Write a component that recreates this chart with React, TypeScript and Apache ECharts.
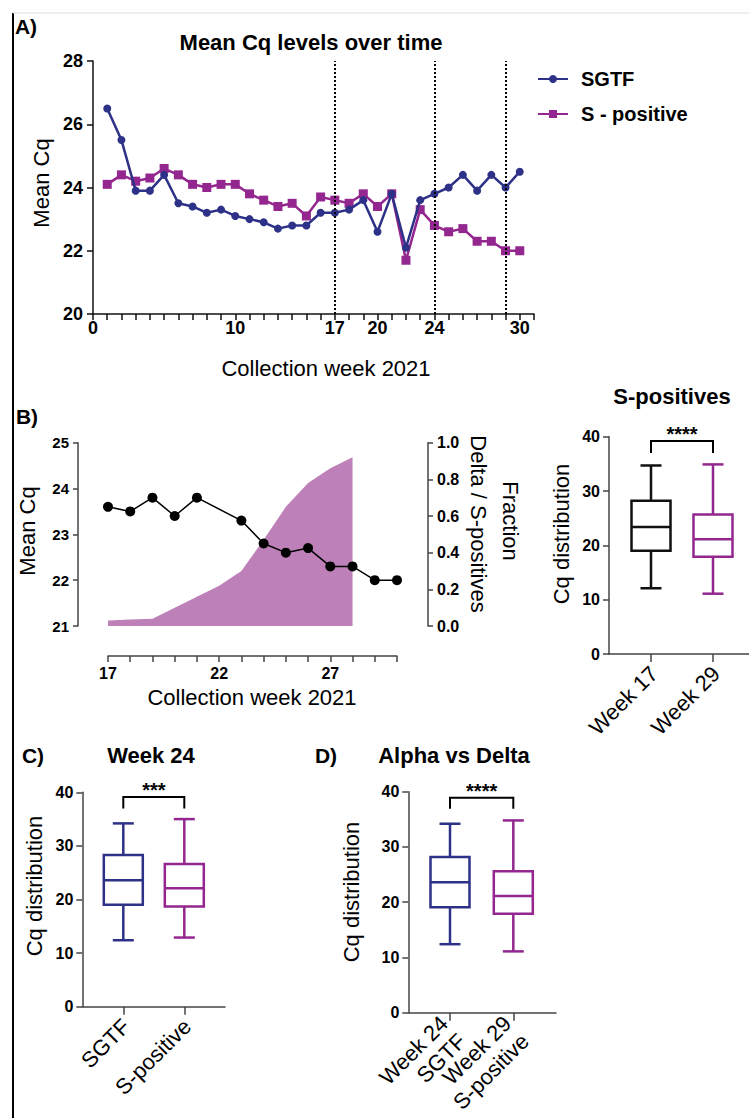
import React, { useEffect, useRef } from "react";
import * as echarts from "echarts";

const FONT = '"Liberation Sans", Arial, Helvetica, sans-serif';

// ---------- Panel A data ----------
const weeksA = [1, 2, 3, 4, 5, 6, 7, 8, 9, 10, 11, 12, 13, 14, 15, 16, 17, 18, 19, 20, 21, 22, 23, 24, 25, 26, 27, 28, 29, 30];
const sgtfA = [26.5, 25.5, 23.9, 23.9, 24.4, 23.5, 23.4, 23.2, 23.3, 23.1, 23.0, 22.9, 22.7, 22.8, 22.8, 23.2, 23.2, 23.3, 23.6, 22.6, 23.8, 22.1, 23.6, 23.8, 24.0, 24.4, 23.9, 24.4, 24.0, 24.5];
const sposA = [24.1, 24.4, 24.2, 24.3, 24.6, 24.4, 24.1, 24.0, 24.1, 24.1, 23.8, 23.6, 23.4, 23.5, 23.1, 23.7, 23.6, 23.5, 23.8, 23.4, 23.8, 21.7, 23.3, 22.8, 22.6, 22.7, 22.3, 22.3, 22.0, 22.0];
const weekLabelsA = [0, 10, 17, 20, 24, 30];
const markerWeeksA = [17, 24, 29];

// ---------- Panel B data ----------
const weeksB = [17, 18, 19, 20, 21, 23, 24, 25, 26, 27, 28, 29, 30];
const meanCqB = [23.6, 23.5, 23.8, 23.4, 23.8, 23.3, 22.8, 22.6, 22.7, 22.3, 22.3, 22.0, 22.0];
const fracWeeksB = [17, 18, 19, 20, 21, 22, 23, 24, 25, 26, 27, 28];
const deltaFracB = [0.03, 0.035, 0.04, 0.1, 0.16, 0.22, 0.3, 0.47, 0.65, 0.78, 0.86, 0.92];
const weekLabelsB = [17, 22, 27];

// ---------- Box panels data: [min, Q1, median, Q3, max] ----------
const sposCats = ["Week 17", "Week 29"];
const sposBoxes = [
  [12.1, 19.0, 23.4, 28.2, 34.7],
  [11.1, 17.9, 21.1, 25.7, 34.9],
];
const sposSig = "****";

const w24Cats = ["SGTF", "S-positive"];
const w24Boxes = [
  [12.4, 19.0, 23.6, 28.3, 34.2],
  [12.9, 18.7, 22.1, 26.6, 35.0],
];
const w24Sig = "***";

const avdCats = ["Week 24\nSGTF", "Week 29\nS-positive"];
const avdBoxes = [
  [12.4, 19.1, 23.6, 28.2, 34.2],
  [11.1, 17.9, 21.1, 25.6, 34.8],
];
const avdSig = "****";

const NAVY = "#2D3187";
const PURPLE = "#93278F";
const AREA = "#BE80B8";

function makeBoxRender(cats: string[]) {
  return (params: any, api: any) => {
    const x = api.value(0);
    const mn = api.value(1), q1 = api.value(2), md = api.value(3), q3 = api.value(4), mx = api.value(5);
    const c = api.visual("color");
    const pMax = api.coord([x, mx]);
    const pQ3 = api.coord([x, q3]);
    const pMd = api.coord([x, md]);
    const pQ1 = api.coord([x, q1]);
    const pMn = api.coord([x, mn]);
    const pBase = api.coord([x, 0]);
    const cx = pMax[0];
    const hw = 19.5;
    const cw = 10.5;
    const st = () => ({ stroke: c, lineWidth: 2.5, fill: "none" });
    return {
      type: "group",
      children: [
        { type: "line", shape: { x1: cx, y1: pMax[1], x2: cx, y2: pQ3[1] }, style: st() },
        { type: "line", shape: { x1: cx, y1: pQ1[1], x2: cx, y2: pMn[1] }, style: st() },
        { type: "line", shape: { x1: cx - cw, y1: pMax[1], x2: cx + cw, y2: pMax[1] }, style: st() },
        { type: "line", shape: { x1: cx - cw, y1: pMn[1], x2: cx + cw, y2: pMn[1] }, style: st() },
        { type: "rect", shape: { x: cx - hw, y: pQ3[1], width: 2 * hw, height: pQ1[1] - pQ3[1] }, style: st() },
        { type: "line", shape: { x1: cx - hw, y1: pMd[1], x2: cx + hw, y2: pMd[1] }, style: st() },
        {
          type: "text",
          x: cx + 3,
          y: pBase[1] + 16,
          rotation: Math.PI / 4,
          style: {
            text: cats[params.dataIndex],
            font: `22px ${FONT}`,
            textAlign: "right",
            textVerticalAlign: "middle",
            lineHeight: 25,
            fill: "#000",
          },
        },
      ],
    };
  };
}

function bracketRender(sig: string) {
  return (params: any, api: any) => {
    const x1 = api.value(0), x2 = api.value(1), top = api.value(2), low = api.value(3);
    const a = api.coord([x1, low]);
    const b = api.coord([x1, top]);
    const c = api.coord([x2, top]);
    const d = api.coord([x2, low]);
    return {
      type: "group",
      children: [
        { type: "polyline", shape: { points: [a, b, c, d] }, style: { stroke: "#000", lineWidth: 2, fill: "none" } },
        {
          type: "text",
          x: (b[0] + c[0]) / 2,
          y: b[1] - 7,
          style: { text: sig, font: `bold 20px ${FONT}`, textAlign: "center", textVerticalAlign: "middle", fill: "#000" },
        },
      ],
    };
  };
}

function boxPanel(gi: number, yi: number, cats: string[], boxes: number[][], colors: string[], sig: string, bTop: number, bLow: number, xmin: number, xmax: number) {
  const axisColor = "#444";
  const xAxis = {
    type: "value",
    gridIndex: gi,
    min: xmin,
    max: xmax,
    splitLine: { show: false },
    axisLine: { onZero: false, lineStyle: { color: axisColor, width: 1.5 } },
    axisTick: { customValues: [1, 2], length: 8, lineStyle: { color: axisColor, width: 1.5 } },
    axisLabel: { show: false },
  };
  const yAxis = {
    type: "value",
    gridIndex: gi,
    min: 0,
    max: 40,
    interval: 10,
    splitLine: { show: false },
    axisLine: { show: true, onZero: false, lineStyle: { color: axisColor, width: 1.5 } },
    axisTick: { show: true, length: 6, lineStyle: { color: axisColor, width: 1.5 } },
    axisLabel: { margin: 9, fontSize: 16, fontWeight: "bold", fontFamily: FONT, color: "#000" },
  };
  const series = [
    {
      type: "custom",
      xAxisIndex: gi,
      yAxisIndex: yi,
      renderItem: makeBoxRender(cats),
      clip: false,
      data: boxes.map((b, i) => ({ value: [i + 1, ...b], itemStyle: { color: colors[i] } })),
      z: 3,
    },
    {
      type: "custom",
      xAxisIndex: gi,
      yAxisIndex: yi,
      renderItem: bracketRender(sig),
      clip: false,
      data: [[1, 2, bTop, bLow]],
      z: 3,
    },
  ];
  return { xAxis, yAxis, series };
}

function txt(text: string, x: number, y: number, size: number, bold = false, rotation = 0) {
  return {
    type: "text",
    x,
    y,
    rotation,
    style: {
      text,
      font: `${bold ? "bold " : ""}${size}px ${FONT}`,
      textAlign: "center",
      textVerticalAlign: "middle",
      fill: "#000",
    },
  };
}

export default function App() {
  const ref = useRef<HTMLDivElement>(null);
  useEffect(() => {
    document.body.style.margin = "0";
    const chart = echarts.init(ref.current!, null, { renderer: "svg" });

    const tickLabel = (size: number) => ({ fontSize: size, fontWeight: "bold", fontFamily: FONT, color: "#000" });

    const spos = boxPanel(2, 3, sposCats, sposBoxes, ["#111", PURPLE], sposSig, 39.2, 37.0, 1 - 42 / 62, 1 - 42 / 62 + 140 / 62);
    const w24 = boxPanel(3, 4, w24Cats, w24Boxes, [NAVY, PURPLE], w24Sig, 39.1, 37.0, 1 - 41 / 61, 1 - 41 / 61 + 142.7 / 61);
    const avd = boxPanel(4, 5, avdCats, avdBoxes, [NAVY, PURPLE], avdSig, 38.9, 36.9, 1 - 41.7 / 63.3, 1 - 41.7 / 63.3 + 147.7 / 63.3);

    const option: any = {
      animation: false,
      backgroundColor: "#fff",
      textStyle: { fontFamily: FONT },
      grid: [
        { left: 93, top: 61, width: 441, height: 253, outerBoundsMode: "none" },
        { left: 108, top: 442.7, width: 289, height: 183.3, outerBoundsMode: "none" },
        { left: 609, top: 436.7, width: 140, height: 217.3, outerBoundsMode: "none" },
        { left: 82.3, top: 792.3, width: 142.7, height: 214.4, outerBoundsMode: "none" },
        { left: 408.3, top: 791.7, width: 147.7, height: 221, outerBoundsMode: "none" },
      ],
      legend: {
        data: ["SGTF", "S - positive"],
        orient: "vertical",
        left: 532,
        top: 64,
        itemWidth: 30,
        itemHeight: 10,
        itemGap: 15,
        textStyle: { fontSize: 20, fontWeight: "bold", fontFamily: FONT, color: "#000", padding: [0, 0, 0, 8] },
      },
      xAxis: [
        {
          type: "value",
          gridIndex: 0,
          min: 0,
          max: 31,
          interval: 1,
          splitLine: { show: false },
          axisLine: { onZero: false, lineStyle: { color: "#111", width: 1.5 } },
          axisTick: { length: 6, lineStyle: { color: "#111", width: 1.5 } },
          axisLabel: { ...tickLabel(18), margin: 5, formatter: (v: number) => (weekLabelsA.includes(v) ? String(v) : "") },
        },
        {
          type: "value",
          gridIndex: 1,
          min: 17,
          max: 30,
          interval: 1,
          offset: 30,
          splitLine: { show: false },
          axisLine: { onZero: false, lineStyle: { color: "#444", width: 1.5 } },
          axisTick: { length: 6, lineStyle: { color: "#444", width: 1.5 } },
          axisLabel: { ...tickLabel(16), margin: 9, formatter: (v: number) => (weekLabelsB.includes(v) ? String(v) : "") },
        },
        spos.xAxis,
        w24.xAxis,
        avd.xAxis,
      ],
      yAxis: [
        {
          type: "value",
          gridIndex: 0,
          min: 20,
          max: 28,
          interval: 2,
          splitLine: { show: false },
          axisLine: { show: true, onZero: false, lineStyle: { color: "#111", width: 1.5 } },
          axisTick: { show: true, length: 6, lineStyle: { color: "#111", width: 1.5 } },
          axisLabel: { ...tickLabel(18), margin: 10 },
        },
        {
          type: "value",
          gridIndex: 1,
          position: "left",
          min: 21,
          max: 25,
          interval: 1,
          offset: 30,
          splitLine: { show: false },
          axisLine: { show: true, onZero: false, lineStyle: { color: "#444", width: 1.5 } },
          axisTick: { show: true, length: 5, lineStyle: { color: "#444", width: 1.5 } },
          axisLabel: { ...tickLabel(15), margin: 9 },
        },
        {
          type: "value",
          gridIndex: 1,
          position: "right",
          min: 0,
          max: 1,
          interval: 0.2,
          offset: 31,
          splitLine: { show: false },
          axisLine: { show: true, onZero: false, lineStyle: { color: "#444", width: 1.5 } },
          axisTick: { show: true, length: 5, lineStyle: { color: "#444", width: 1.5 } },
          axisLabel: { ...tickLabel(16), margin: 9, formatter: (v: number) => v.toFixed(1) },
        },
        spos.yAxis,
        w24.yAxis,
        avd.yAxis,
      ],
      series: [
        {
          name: "S - positive",
          type: "line",
          xAxisIndex: 0,
          yAxisIndex: 0,
          data: weeksA.map((w, i) => [w, sposA[i]]),
          symbol: "rect",
          symbolSize: 9,
          itemStyle: { color: PURPLE },
          lineStyle: { color: PURPLE, width: 2.5 },
          markLine: {
            silent: true,
            symbol: "none",
            label: { show: false },
            lineStyle: { type: "dotted", color: "#000", width: 2 },
            data: markerWeeksA.map((w) => ({ xAxis: w })),
          },
          z: 2,
        },
        {
          name: "SGTF",
          type: "line",
          xAxisIndex: 0,
          yAxisIndex: 0,
          data: weeksA.map((w, i) => [w, sgtfA[i]]),
          symbol: "circle",
          symbolSize: 8,
          itemStyle: { color: NAVY },
          lineStyle: { color: NAVY, width: 2.5 },
          z: 3,
        },
        {
          name: "Delta fraction",
          type: "line",
          xAxisIndex: 1,
          yAxisIndex: 2,
          data: fracWeeksB.map((w, i) => [w, deltaFracB[i]]),
          symbol: "none",
          lineStyle: { width: 0, color: AREA },
          areaStyle: { color: AREA, opacity: 1 },
          z: 1,
        },
        {
          name: "Mean Cq S-positives",
          type: "line",
          xAxisIndex: 1,
          yAxisIndex: 1,
          data: weeksB.map((w, i) => [w, meanCqB[i]]),
          symbol: "circle",
          symbolSize: 10,
          itemStyle: { color: "#000" },
          lineStyle: { color: "#000", width: 1.5 },
          z: 3,
        },
        ...spos.series,
        ...w24.series,
        ...avd.series,
      ],
      graphic: [
        { type: "line", shape: { x1: 13, y1: 13, x2: 13, y2: 1118 }, style: { stroke: "#000", lineWidth: 2 } },
        { type: "line", shape: { x1: 13, y1: 13, x2: 749, y2: 13 }, style: { stroke: "#ddd", lineWidth: 1 } },
        txt("A)", 26, 26, 21, true),
        txt("Mean Cq levels over time", 311, 42, 22, true),
        txt("Mean Cq", 41, 183, 22, false, Math.PI / 2),
        txt("Collection week 2021", 326, 368, 22),
        txt("B)", 27, 416, 21, true),
        txt("Mean Cq", 27, 531, 22, false, Math.PI / 2),
        txt("Collection week 2021", 252, 697, 22),
        txt("Fraction", 510, 521, 22, false, -Math.PI / 2),
        txt("Delta / S-positives", 478, 524, 22, false, -Math.PI / 2),
        txt("S-positives", 672, 396, 22, true),
        txt("Cq distribution", 561, 534, 22, false, Math.PI / 2),
        txt("C)", 33, 755, 21, true),
        txt("Week 24", 151, 755, 22, true),
        txt("Cq distribution", 34, 886, 22, false, Math.PI / 2),
        txt("D)", 326, 755, 21, true),
        txt("Alpha vs Delta", 454, 755, 22, true),
        txt("Cq distribution", 351, 892, 22, false, Math.PI / 2),
      ],
    };

    chart.setOption(option);
    return () => chart.dispose();
  }, []);

  return <div ref={ref} style={{ position: "absolute", left: 0, top: 0, width: 749, height: 1118 }} />;
}
